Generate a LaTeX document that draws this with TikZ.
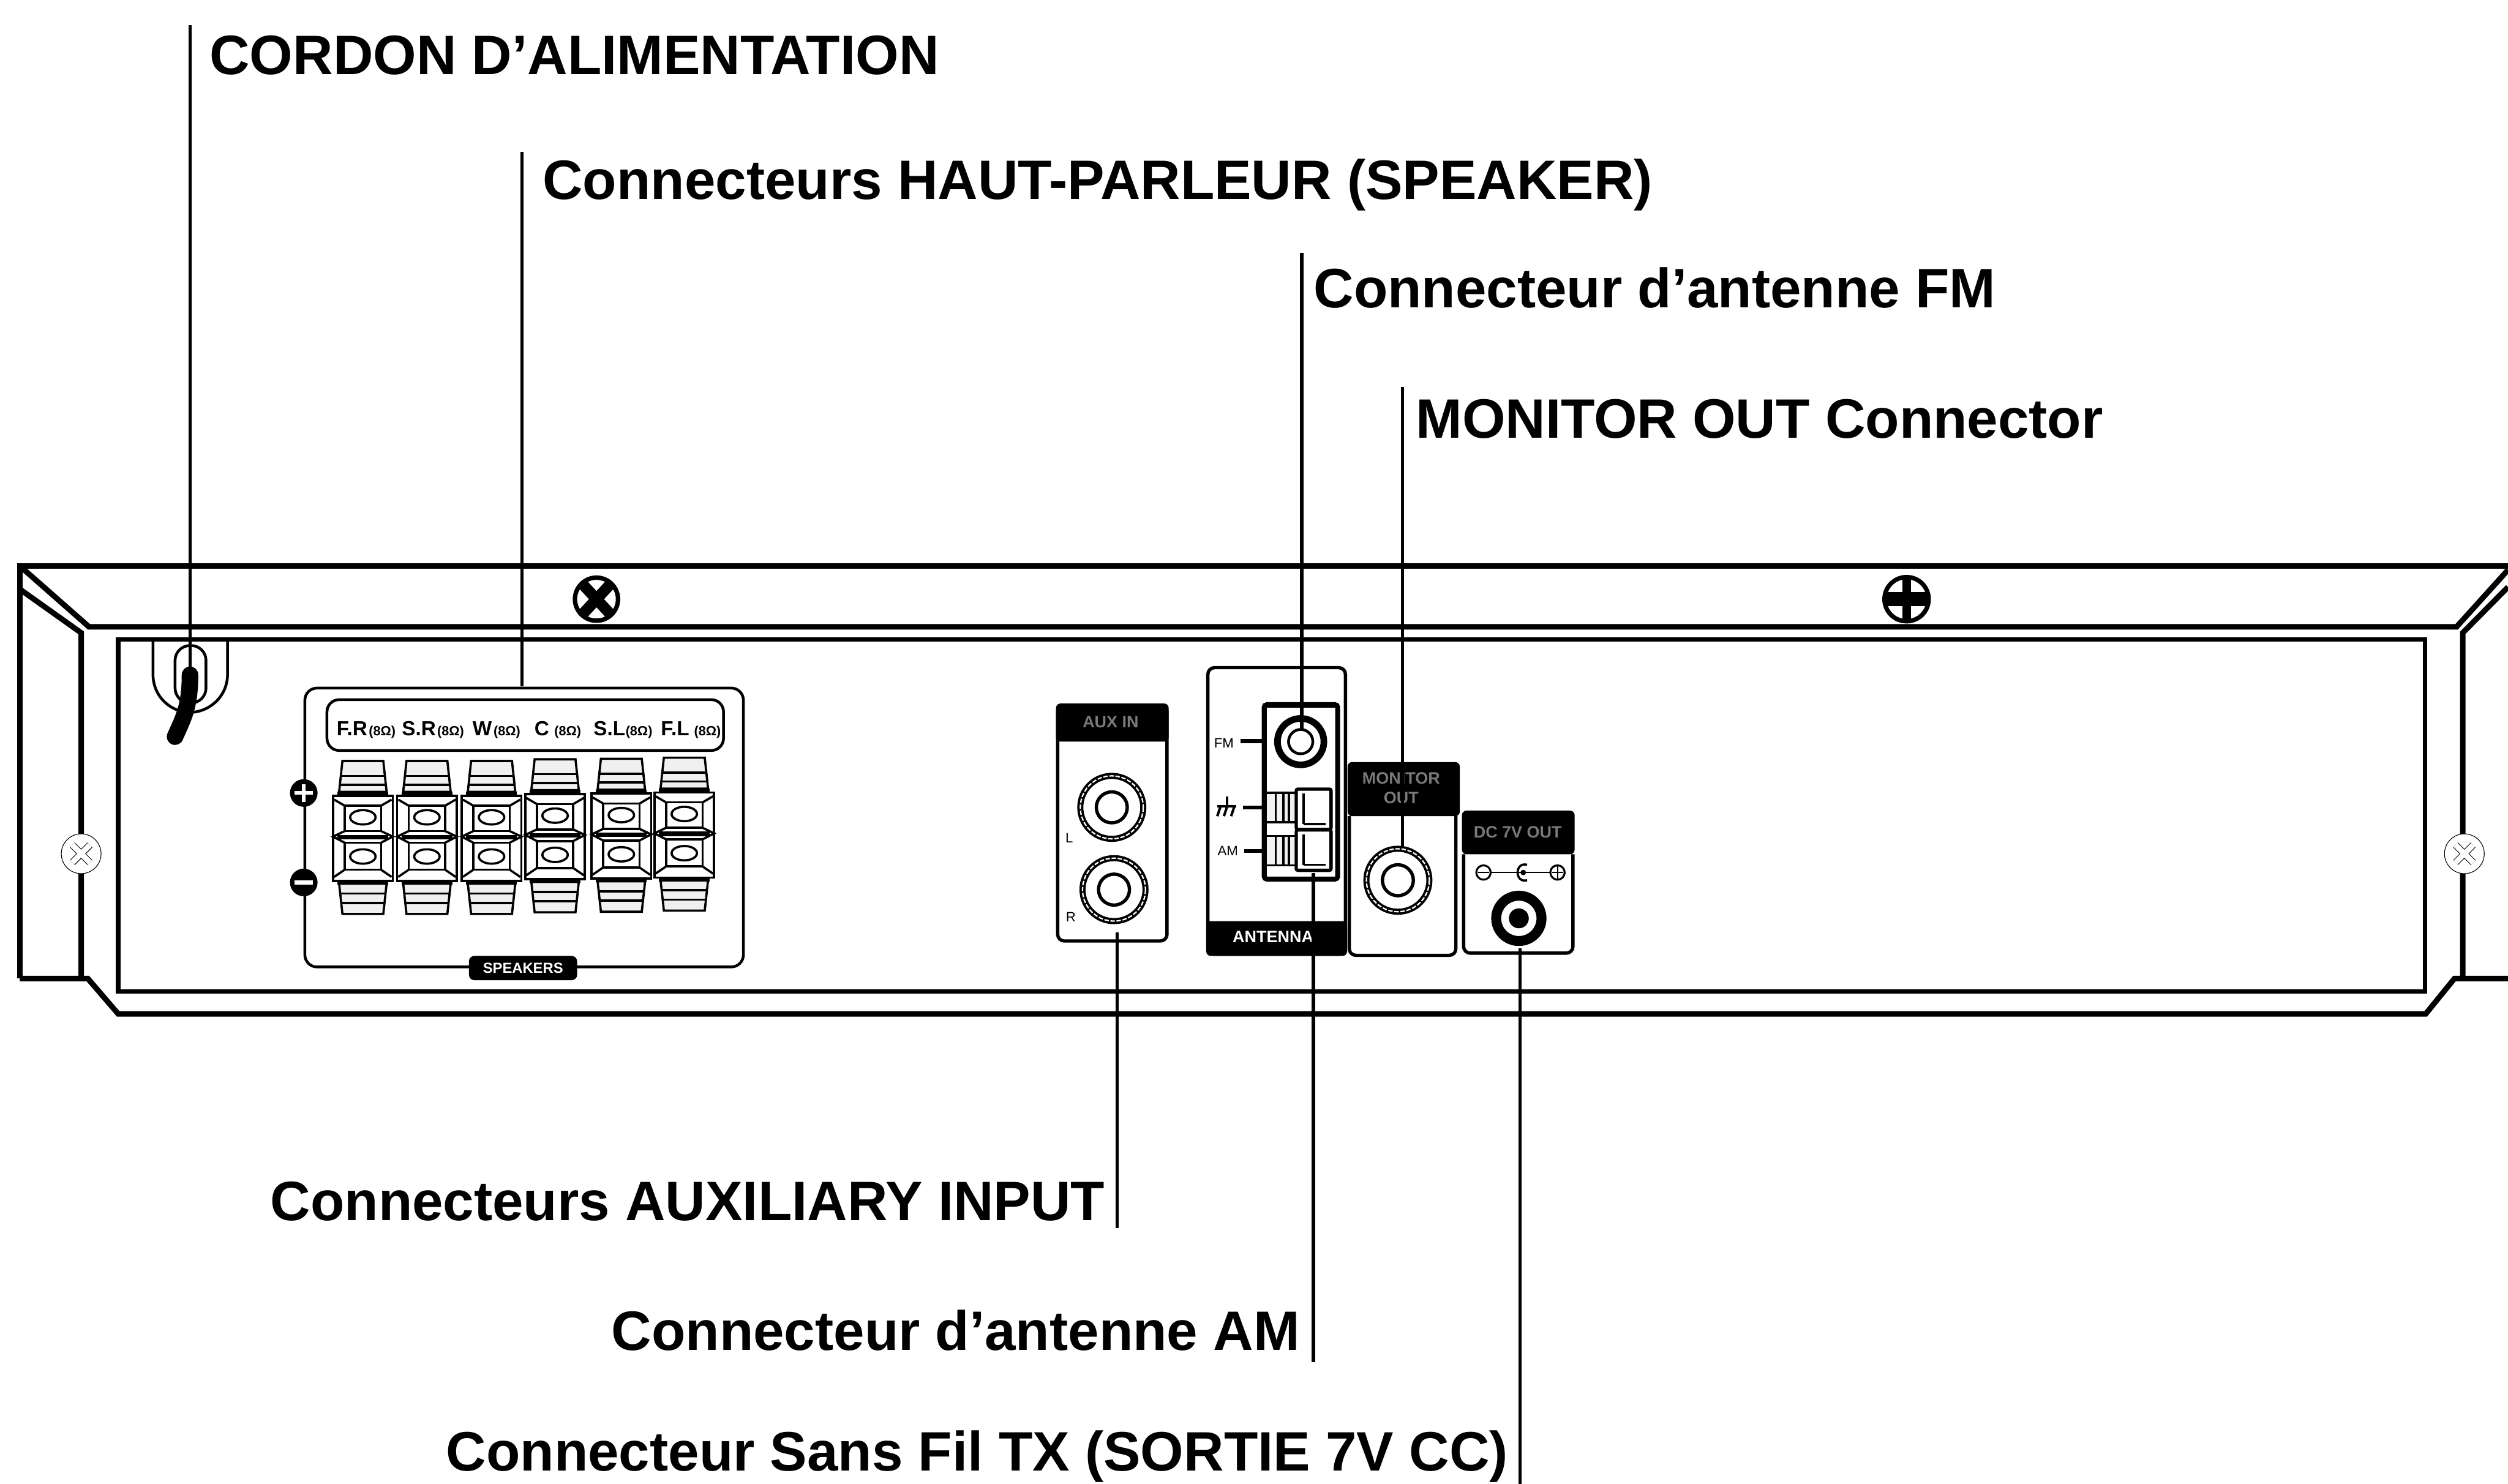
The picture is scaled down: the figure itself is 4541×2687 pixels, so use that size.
\documentclass[tikz,border=0pt]{standalone}
\usepackage{fontspec}
\setmainfont{Liberation Sans}
\definecolor{blurgray}{HTML}{7A7A7A}
\definecolor{capgray}{HTML}{F0F0F0}

\begin{document}
\begin{tikzpicture}[
  x=0.01cm, y=-0.01cm,
  body/.style={draw=black, line width=0.1cm, line join=miter},
  plate/.style={draw=black, line width=0.06cm, rounded corners=0.12cm},
  thin plate/.style={draw=black, line width=0.05cm, rounded corners=0.22cm},
  postline/.style={draw=black, line width=0.04cm},
  leader/.style={draw=black, line width=0.06cm},
  callout/.style={font=\bfseries\fontsize{28.6}{32}\selectfont, inner sep=0pt, text=black},
  tiny/.style={font=\bfseries\fontsize{6.8}{8}\selectfont, inner sep=0pt},
  hdr/.style={font=\bfseries\fontsize{8.5}{10}\selectfont, inner sep=0pt, text=blurgray},
  mark text/.style={font=\fontsize{7}{8}\selectfont, inner sep=0pt},
  rca/.style={circle, draw=black, line width=0.11cm, minimum size=1.14cm, inner sep=0pt},
  rca core/.style={circle, draw=black, line width=0.06cm, minimum size=0.56cm, inner sep=0pt},
]
\useasboundingbox (0,0) rectangle (4541,2687);

%% Chassis
\draw[body] (36,1772) -- (36,1025) -- (4541,1025);
\draw[body] (36,1025) -- (161,1135) -- (4448,1135) -- (4541,1032);
\draw[body] (36,1067) -- (147,1146) -- (147,1772);
\draw[body] (36,1772) -- (159,1772) -- (214,1836) -- (4392,1836) -- (4444,1772) -- (4541,1772);
\draw[body] (4541,1063) -- (4459,1146) -- (4459,1772);
\draw[draw=black, line width=0.08cm] (214,1158) rectangle (4391,1795);

%% Screws
\draw[fill=white, draw=black, line width=0.08cm] (1080,1085) circle (39);
\draw[black, line width=0.2cm] (1055,1058) -- (1105,1112) (1105,1058) -- (1055,1112);
\draw[fill=white, draw=black, line width=0.08cm] (3452,1085) circle (40);
\draw[black, line width=0.16cm] (3452,1045) -- (3452,1125);
\draw[black, line width=0.26cm] (3412,1085) -- (3492,1085);
\foreach \sx in {147,4462}{
  \draw[fill=white, draw=black, line width=0.012cm] (\sx,1546) circle (36);
  \draw[black, line width=0.012cm, double=white, double distance=0.1cm]
    (\sx-16,1530) -- (\sx+16,1562) (\sx+16,1530) -- (\sx-16,1562);
}

%% Cordon
\draw[black, line width=0.05cm] (277,1158) -- (277,1221) .. controls (277,1262) and (310,1290) .. (344,1290)
  .. controls (378,1290) and (412,1262) .. (412,1221) -- (412,1158);
\draw[fill=white, draw=black, line width=0.05cm, rounded corners=0.27cm] (317,1169) rectangle (373,1273);
\draw[black, line width=0.3cm, line cap=round] (344,1222) .. controls (344,1280) and (332,1300) .. (317,1334);

%% Speaker terminals
\draw[thin plate] (552,1246) rectangle (1346,1751);
\draw[thin plate] (592,1267) rectangle (1310,1359);
\foreach \lx/\ltext/\ox [count=\i] in {609/F.R/692,727/S.R/816,855/W/918,967/C/1028,1074/S.L/1157,1196/F.L/1281}{
  \node[font=\bfseries\fontsize{10.5}{12}\selectfont, inner sep=0pt, anchor=base west] (spklbl\i) at (\lx,1332) {\ltext};
  \node[tiny, anchor=base] (spkohm\i) at (\ox,1332) {(8Ω)};
}
\foreach \cx/\cy [count=\i] in {657/1518,773/1518,890/1518,1005/1515,1125/1514,1239/1512}{
  \begin{scope}[shift={(\cx,\cy)}]
    %% upper and lower caps
    \draw[postline, fill=capgray] (-37,-140) -- (37,-140) -- (43,-84) -- (-43,-84) -- cycle;
    \draw[postline] (-40,-113) -- (40,-113) (-42,-97) -- (42,-97);
    \draw[postline, fill=capgray] (-37,137) -- (37,137) -- (43,82) -- (-43,82) -- cycle;
    \draw[postline] (-41,100) -- (41,100) (-39,117) -- (39,117);
    \fill[black] (-46,-84) rectangle (46,-77);
    \fill[black] (-46,77) rectangle (46,84);
    %% block
    \draw[postline, fill=white] (-54,-77) rectangle (54,77);
    \draw[postline] (-33,-59) rectangle (33,-13);
    \draw[postline] (-33,8) rectangle (33,57);
    \draw[postline] (-52,-70) -- (-33,-59) (52,-70) -- (33,-59) (-52,70) -- (-33,57) (52,70) -- (33,57);
    \draw[postline] (-33,-13) -- (-54,-3) -- (-33,8) (33,-13) -- (54,-3) -- (33,8);
    \fill[black] (-46,-6) rectangle (46,2);
    \draw[postline] (0,-38) ellipse (23 and 13);
    \draw[postline] (0,33) ellipse (23 and 13);
  \end{scope}
}
\fill[black] (550,1436) circle (25);
\draw[white, line width=0.07cm] (533,1436) -- (567,1436) (550,1420) -- (550,1452);
\fill[black] (550,1598) circle (25);
\draw[white, line width=0.07cm] (533,1598) -- (567,1598);
\fill[black, rounded corners=0.1cm] (849,1731) rectangle (1045,1775);
\node[font=\bfseries\fontsize{7.5}{9}\selectfont, inner sep=0pt, text=white] (spktag) at (947,1753) {SPEAKERS};

%% Aux input
\draw[plate, fill=white] (1915,1277) rectangle (2113,1704);
\fill[black, rounded corners=0.08cm] (1912,1343) -- (1912,1274) -- (2116,1274) -- (2116,1343) -- cycle;
\node[hdr] (auxhdr) at (2011,1308) {AUX IN};
\node[rca] (auxl) at (2013,1462) {};
\draw[white, line width=0.025cm, dash pattern=on 0.08cm off 0.03cm] (auxl) circle (57);
\node[rca core] at (auxl) {};
\node[rca] (auxr) at (2017,1611) {};
\draw[white, line width=0.025cm, dash pattern=on 0.08cm off 0.03cm] (auxr) circle (57);
\node[rca core] at (auxr) {};
\node[mark text] (auxllbl) at (1936,1518) {L};
\node[mark text] (auxrlbl) at (1939,1661) {R};

%% Antenna
\draw[plate, fill=white] (2187,1209) rectangle (2436,1728);
\fill[black, rounded corners=0.08cm] (2184,1668) -- (2184,1731) -- (2439,1731) -- (2439,1668) -- cycle;
\node[font=\bfseries\fontsize{8.5}{10}\selectfont, inner sep=0pt, text=white] (antlbl) at (2305,1696) {ANTENNA};
\draw[black, line width=0.09cm, rounded corners=0.05cm] (2289,1276) rectangle (2422,1592);
\fill[black] (2289,1273) rectangle (2422,1282);
\node[circle, draw=black, line width=0.12cm, minimum size=0.84cm, inner sep=0pt] (fmjack) at (2355,1343) {};
\node[rca core, line width=0.05cm, minimum size=0.44cm] at (fmjack) {};
\node[mark text] (fmlbl) at (2216,1346) {FM};
\node[mark text] (amlbl) at (2223,1541) {AM};
\draw[black, line width=0.07cm] (2246,1342) -- (2289,1342) (2250,1462) -- (2289,1462) (2253,1541) -- (2289,1541);
%% ground mark
\draw[black, line width=0.045cm] (2222,1442) -- (2222,1460) (2204,1460) -- (2238,1460);
\draw[black, line width=0.045cm] (2210,1460) -- (2204,1478) (2222,1460) -- (2216,1478) (2235,1460) -- (2229,1478);
%% spring clips
\foreach \cy in {1436,1514}{
  \draw[postline, fill=capgray] (2292,\cy) rectangle (2347,\cy+53);
  \draw[postline] (2310,\cy) -- (2310,\cy+53) (2324,\cy) -- (2324,\cy+53) (2334,\cy) -- (2334,\cy+53);
}
\foreach \cy in {1429,1503}{
  \draw[black, line width=0.06cm, fill=white, rounded corners=0.03cm] (2347,\cy) rectangle (2410,\cy+73);
  \draw[postline] (2360,\cy+8) -- (2360,\cy+63) (2360,\cy+63) -- (2400,\cy+63);
}

%% Monitor out
\draw[plate, fill=white] (2443,1478) -- (2443,1730) -- (2636,1730) -- (2636,1478);
\fill[black, rounded corners=0.08cm] (2440,1478) -- (2440,1380) -- (2643,1380) -- (2643,1478) -- cycle;
\node[hdr, align=center] (monhdr) at (2537,1427) {MONITOR\\OUT};
\node[rca] (monjack) at (2531,1594) {};
\draw[white, line width=0.025cm, dash pattern=on 0.08cm off 0.03cm] (monjack) circle (57);
\node[rca core] at (monjack) {};

%% DC out
\draw[plate, fill=white] (2650,1547) -- (2650,1726) -- (2848,1726) -- (2848,1547);
\fill[black, rounded corners=0.08cm] (2647,1547) -- (2647,1468) -- (2851,1468) -- (2851,1547) -- cycle;
\node[hdr] (dchdr) at (2748,1507) {DC 7V OUT};
\draw[black, line width=0.02cm] (2686,1580) -- (2820,1580);
\draw[black, line width=0.035cm, fill=white] (2686,1580) circle (13);
\draw[black, line width=0.035cm, fill=white] (2820,1580) circle (13);
\draw[black, line width=0.02cm] (2676,1580) -- (2696,1580) (2810,1580) -- (2830,1580) (2820,1568) -- (2820,1592);
\draw[black, line width=0.04cm] (2765,1566) .. controls (2742,1560) and (2742,1600) .. (2765,1594);
\fill[black] (2758,1580) circle (5);
\node[circle, draw=black, line width=0.18cm, minimum size=0.82cm, inner sep=0pt] (dcjack) at (2750,1663) {};
\fill[black] (dcjack) circle (18);

%% Call-outs
\node[callout, anchor=west] (cordlbl)    at (379,100)   {CORDON D’ALIMENTATION};
\node[callout, anchor=west] (speakerlbl) at (982,335)   {Connecteurs HAUT-PARLEUR (SPEAKER)};
\node[callout, anchor=west] (fmcall)     at (2378,521)  {Connecteur d’antenne FM};
\node[callout, anchor=west] (moncall)    at (2563,759)  {MONITOR OUT Connector};
\node[callout, anchor=east] (auxcall)    at (2001,2175) {Connecteurs AUXILIARY INPUT};
\node[callout, anchor=east] (amcall)     at (2354,2409) {Connecteur d’antenne AM};
\node[callout, anchor=east] (txcall)     at (2731,2638) {Connecteur Sans Fil TX (SORTIE 7V CC)};

\coordinate (cordtop) at (344,46);
\coordinate (cordend) at (344,1240);
\coordinate (speakertop) at (945,275);
\coordinate (speakerend) at (945,1243);
\coordinate (fmtop) at (2357,458);
\coordinate (fmend) at (2357,1322);
\coordinate (montop) at (2539,701);
\coordinate (monend) at (2539,1534);
\coordinate (auxtail) at (2023,2224);
\coordinate (auxend) at (2023,1688);
\coordinate (amtail) at (2378,2467);
\coordinate (amend) at (2378,1581);
\coordinate (txtail) at (2752,2687);
\coordinate (txend) at (2752,1717);

\draw[leader] (cordtop) -- (cordend);
\draw[leader] (speakertop) -- (speakerend);
\draw[leader] (fmtop) -- (fmend);
\draw[leader] (montop) -- (monend);
\draw[leader] (auxtail) -- (auxend);
\draw[leader] (amtail) -- (amend);
\draw[leader] (txtail) -- (txend);

\end{tikzpicture}
\end{document}
